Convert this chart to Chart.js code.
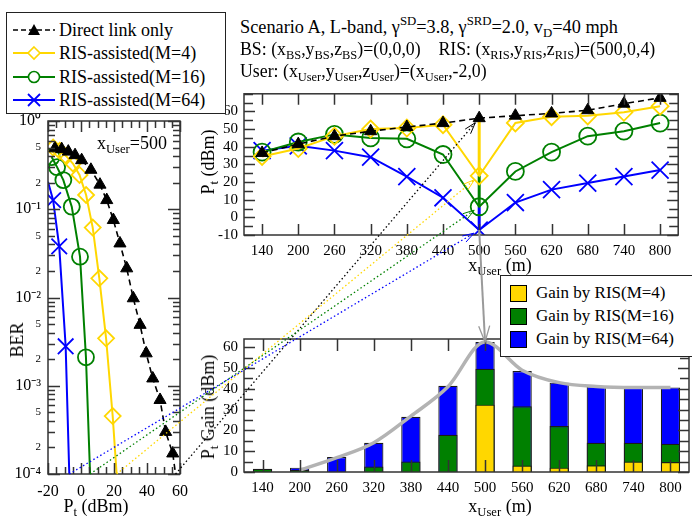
<!DOCTYPE html>
<html>
<head>
<meta charset="utf-8">
<script src="https://cdn.jsdelivr.net/npm/chart.js@4.4.1/dist/chart.umd.min.js"></script>
<style>
  body { margin: 0; background: #fff; }
  #page { position: relative; width: 692px; height: 523px; overflow: hidden;
          font-family: "Liberation Serif", "Times New Roman", serif; color: #000; }
  canvas { position: absolute; }
  .txt { position: absolute; white-space: nowrap; font-size: 17.8px; line-height: 22px; }
  .rot { transform: translate(-50%, -50%) rotate(-90deg); transform-origin: center; }
  .ctr { transform: translate(-50%, -50%); }
  sub, sup { font-size: 70%; line-height: 0; }
  sub { vertical-align: -0.35em; }
  sup { vertical-align: 0.6em; }
  .box { position: absolute; background: #fff; border: 1px solid #222; z-index: 5; }
  .row { position: absolute; left: 0; height: 22px; display: flex; align-items: center; white-space: nowrap; }
  .sq { display: inline-block; width: 15px; height: 15px; border: 1px solid #000; margin-right: 9px; }
</style>
</head>
<body>
<div id="page">
  <canvas id="ber" width="190" height="413" style="left:0;top:110px"></canvas>
  <canvas id="pt" width="507" height="200" style="left:185px;top:80px"></canvas>
  <canvas id="gain" width="507" height="193" style="left:185px;top:330px"></canvas>
  <canvas id="overlay" width="692" height="523" style="left:0;top:0;z-index:3"></canvas>

  <div class="box" style="left:6px;top:12px;width:218px;height:100px;font-size:18px">
    <div class="row" style="top:6px">
      <svg width="46" height="16" style="margin:0 2px 0 4px">
        <line x1="2" y1="8" x2="44" y2="8" stroke="#000" stroke-width="1.5" stroke-dasharray="5,3"/>
        <polygon points="23,2 29,13 17,13" fill="#000"/>
      </svg><span>Direct link only</span></div>
    <div class="row" style="top:29px">
      <svg width="46" height="16" style="margin:0 2px 0 4px">
        <line x1="2" y1="8" x2="44" y2="8" stroke="#FFD700" stroke-width="2"/>
        <polygon points="23,2 29,8 23,14 17,8" fill="#fff" stroke="#FFD700" stroke-width="1.6"/>
      </svg><span>RIS-assisted(M=4)</span></div>
    <div class="row" style="top:53px">
      <svg width="46" height="16" style="margin:0 2px 0 4px">
        <line x1="2" y1="8" x2="44" y2="8" stroke="#008000" stroke-width="2"/>
        <circle cx="23" cy="8" r="5.5" fill="#fff" stroke="#008000" stroke-width="1.6"/>
      </svg><span>RIS-assisted(M=16)</span></div>
    <div class="row" style="top:76px">
      <svg width="46" height="16" style="margin:0 2px 0 4px">
        <line x1="2" y1="8" x2="44" y2="8" stroke="#0000FF" stroke-width="2"/>
        <line x1="17" y1="2" x2="29" y2="14" stroke="#0000FF" stroke-width="1.8"/>
        <line x1="17" y1="14" x2="29" y2="2" stroke="#0000FF" stroke-width="1.8"/>
      </svg><span>RIS-assisted(M=64)</span></div>
  </div>

  <div class="box" style="left:500px;top:275px;width:200px;height:80px;font-size:17px">
    <div class="row" style="left:9px;top:6px"><span class="sq" style="background:#FFD700"></span>Gain by RIS(M=4)</div>
    <div class="row" style="left:9px;top:29px"><span class="sq" style="background:#008000"></span>Gain by RIS(M=16)</div>
    <div class="row" style="left:9px;top:52px"><span class="sq" style="background:#0000FF"></span>Gain by RIS(M=64)</div>
  </div>

  <div class="txt" style="left:240px;top:16px;font-size:18.3px">Scenario A, L-band, &gamma;<sup>SD</sup>=3.8, &gamma;<sup>SRD</sup>=2.0, v<sub>D</sub>=40 mph</div>
  <div class="txt" style="left:240px;top:38px">BS: (x<sub>BS</sub>,y<sub>BS</sub>,z<sub>BS</sub>)=(0,0,0)&nbsp;&nbsp;&nbsp;&nbsp;RIS: (x<sub>RIS</sub>,y<sub>RIS</sub>,z<sub>RIS</sub>)=(500,0,4)</div>
  <div class="txt" style="left:240px;top:60px">User: (x<sub>User</sub>,y<sub>User</sub>,z<sub>User</sub>)=(x<sub>User</sub>,-2,0)</div>

  <div class="txt" style="left:97px;top:132px;font-size:18px">x<sub>User</sub>=500</div>
  <div class="txt rot" style="left:17px;top:340px;font-size:18px">BER</div>
  <div class="txt ctr" style="left:96px;top:506px;font-size:18px">P<sub>t</sub> (dBm)</div>
  <div class="txt rot" style="left:208px;top:162px;font-size:18px">P<sub>t</sub> (dBm)</div>
  <div class="txt ctr" style="left:500px;top:265px;font-size:18px;z-index:2">x<sub>User</sub> (m)</div>
  <div class="txt rot" style="left:208px;top:407px;font-size:18px">P<sub>t</sub> Gain (dBm)</div>
  <div class="txt ctr" style="left:500px;top:506px;font-size:18px">x<sub>User</sub> (m)</div>
</div>

<script>
// user positions along x (m)
const xUser = ['140', '200', '260', '320', '380', '440', '500', '560', '620', '680', '740', '800'];

// required transmit power Pt (dBm)
const ptDirect = [36.5, 41.5, 46, 48.8, 51.2, 53.4, 56.2, 57.6, 58.9, 60.7, 64.4, 67.7];
const ptM4 = [34.5, 39, 46, 50, 50.6, 52.5, 23.5, 53.5, 57, 57.5, 59.5, 63];
const ptM16 = [36.9, 42.7, 47, 45, 44.5, 35.6, 6, 26, 37, 46, 48.8, 53.4];
const ptM64 = [37.8, 40.5, 37.8, 34.1, 23.1, 11.1, -7.2, 8.4, 15.7, 19.4, 23.1, 26.8];

// Pt gain by RIS (dBm)
const gainM4 = [0, 0, 0, 0, 0, 0, 32.4, 3.1, 2.1, 3.2, 5.0, 4.8];
const gainM16 = [1.6, 1.0, 0, 2.6, 5.0, 17.9, 49.7, 31.6, 22.1, 14.1, 14.1, 13.6];
const gainM64 = [1.2, 2.1, 7.2, 14.1, 26.6, 41.5, 62.6, 48.6, 43.0, 41.2, 40.7, 40.7];
const gainTrend = [null, 0.8, 6.9, 14.1, 26.9, 41, 62.6, 49, 43, 41.2, 40.7, 40.7];

// BER vs Pt at xUser = 500
const berPtDirect = [-15.8, -11.7, -7.7, -3.6, 0.4, 6, 11.5, 15.6, 19.6, 23.6, 27.7, 31.7, 35.8, 39.5, 43.5, 47.9, 51.3, 55.6, 57.3];
const berDirect = [0.49, 0.48, 0.45, 0.41, 0.36, 0.28, 0.19, 0.127, 0.0755, 0.041, 0.0214, 0.0098, 0.0049, 0.00233, 0.00121, 0.00069, 0.0003, 0.000171, 0.0001];
const berPtM4 = [-16.9, -12.9, -8.9, -4.9, -0.9, 3.1, 7.1, 11.1, 15.2, 19.2, 21.6];
const berM4 = [0.5, 0.46, 0.4, 0.33, 0.245, 0.145, 0.062, 0.0165, 0.00345, 0.000454, 0.0001];
const berPtM16 = [-17.8, -14.5, -10.7, -5.6, -0.6, 3.0, 5.5];
const berM16 = [0.39, 0.3, 0.214, 0.107, 0.029, 0.0021, 0.0001];
const berPtM64 = [-20, -16.9, -13.2, -9.3, -7.1];
const berM64 = [0.205, 0.127, 0.038, 0.0028, 0.0001];

// tick labels
const ptTicks = [-10, 0, 10, 20, 30, 40, 50, 60];
const gainTicks = [0, 10, 20, 30, 40, 50, 60];
const berPtTicks = [-20, 0, 20, 40, 60];
const berMinorLabels = [2, 5];

const YEL = '#FFD700', GRN = '#008000', BLU = '#0000FF';
const FONT = '"Liberation Serif", "Times New Roman", serif';

Chart.defaults.font.family = FONT;
Chart.defaults.color = '#000';
Chart.defaults.animation = false;
Chart.defaults.plugins.legend.display = false;
Chart.defaults.plugins.tooltip.enabled = false;

const range = (a, b, s) => {
  const out = [];
  for (let v = a; v <= b + 1e-9; v += s) out.push(+v.toFixed(6));
  return out;
};

// fixed axis box so the plot areas land where the figure has them
const fixSize = (w, h) => s => {
  if (w !== null) s.width = w;
  if (h !== null) s.height = h;
  s.paddingTop = s.paddingBottom = s.paddingLeft = s.paddingRight = 0;
};

// grace-style box with inward ticks on all four sides
const frame = {
  id: 'frame',
  afterDraw(chart, args, opts) {
    const { ctx, chartArea: a, scales } = chart;
    ctx.save();
    ctx.strokeStyle = '#333';
    ctx.lineWidth = 1.5;
    ctx.strokeRect(a.left, a.top, a.right - a.left, a.bottom - a.top);
    ctx.beginPath();
    scales.x.ticks.forEach((t, i) => {
      const p = Math.round(scales.x.getPixelForTick(i)) + 0.5;
      const len = opts.xMajor(t) ? opts.xLong : opts.xShort;
      ctx.moveTo(p, a.bottom); ctx.lineTo(p, a.bottom - len);
      ctx.moveTo(p, a.top); ctx.lineTo(p, a.top + len);
    });
    scales.y.ticks.forEach((t, i) => {
      const p = Math.round(scales.y.getPixelForTick(i)) + 0.5;
      const len = opts.yMajor(t) ? opts.yLong : opts.yShort;
      ctx.moveTo(a.left, p); ctx.lineTo(a.left + len, p);
      ctx.moveTo(a.right, p); ctx.lineTo(a.right - len, p);
    });
    ctx.stroke();
    ctx.restore();
  }
};

const hasLabel = t => t.label !== '' && t.label !== undefined;

function series(data, color, style, radius, filled, dashed) {
  return {
    data: data,
    borderColor: color,
    borderWidth: dashed ? 1.6 : 2,
    borderDash: dashed ? [6, 4] : [],
    pointStyle: style,
    pointRadius: radius,
    pointBorderWidth: filled ? 1 : 1.8,
    pointBorderColor: color,
    pointBackgroundColor: filled ? color : 'rgba(0,0,0,0)',
    tension: 0
  };
}

// ---- left: BER vs Pt ----
const xy = (xs, ys) => xs.map((x, i) => ({ x: x, y: ys[i] }));
const berSets = [
  series(xy(berPtDirect, berDirect), '#000', 'triangle', 7, true, true),
  series(xy(berPtM4, berM4), YEL, 'rectRot', 8, false, false),
  series(xy(berPtM16, berM16), GRN, 'circle', 8, false, false),
  series(xy(berPtM64, berM64), BLU, 'crossRot', 11, false, false)
];
berSets.forEach(ds => {
  const r = ds.pointRadius;
  ds.pointRadius = c => (c.raw && (c.raw.y <= 1e-4 || c.raw.x <= -20)) ? 0 : r;
});
const isDecade = v => Math.abs(Math.log10(v) - Math.round(Math.log10(v))) < 1e-6;
const supMap = { '-': '\u207B', '0': '\u2070', '1': '\u00B9', '2': '\u00B2', '3': '\u00B3', '4': '\u2074' };

const berChart = new Chart(document.getElementById('ber'), {
  type: 'line',
  data: { datasets: berSets },
  options: {
    responsive: false,
    layout: { padding: { top: 11, right: 10, left: 0, bottom: 0 } },
    scales: {
      x: {
        type: 'linear', min: -20, max: 60,
        grid: { display: false, drawTicks: false }, border: { display: false },
        afterBuildTicks: s => { s.ticks = range(-20, 60, 5).map(v => ({ value: v })); },
        afterFit: fixSize(null, 49),
        ticks: { autoSkip: false, maxRotation: 0, padding: 8, font: { size: 16 },
                 callback: v => berPtTicks.includes(v) ? String(v) : '' }
      },
      y: {
        type: 'logarithmic', min: 1e-4, max: 1,
        grid: { display: false, drawTicks: false }, border: { display: false },
        afterBuildTicks: s => {
          const t = [];
          for (let e = -4; e <= 0; e++) {
            for (let m = 1; m <= 9; m++) {
              const v = +(m * Math.pow(10, e)).toPrecision(6);
              if (v <= 1) t.push({ value: v });
            }
          }
          s.ticks = t;
        },
        afterFit: fixSize(48, null),
        ticks: {
          autoSkip: false, padding: 7,
          font: c => ({ size: c.tick && isDecade(c.tick.value) ? 16 : 11 }),
          callback: v => {
            const e = Math.floor(Math.log10(v) + 1e-9);
            const m = Math.round(v / Math.pow(10, e));
            if (m === 1) return '10' + String(e).split('').map(ch => supMap[ch]).join('');
            return berMinorLabels.includes(m) ? String(m) : '';
          }
        }
      }
    },
    plugins: {
      frame: { xMajor: t => t.value % 20 === 0, xLong: 11, xShort: 7,
               yMajor: t => isDecade(t.value), yLong: 12, yShort: 7 }
    }
  },
  plugins: [frame]
});

// ---- top right: Pt vs xUser ----
const i500 = xUser.indexOf('500');

const gainMarks = {
  id: 'gainMarks',
  beforeDatasetsDraw(chart) {
    const { ctx, scales } = chart;
    const px = scales.x.getPixelForValue(i500);
    const segs = [[ptDirect, ptM4, YEL], [ptM4, ptM16, GRN], [ptM16, ptM64, BLU]];
    ctx.save();
    ctx.lineWidth = 3;
    segs.forEach(([a, b, col]) => {
      ctx.strokeStyle = col;
      ctx.beginPath();
      ctx.moveTo(px, scales.y.getPixelForValue(a[i500]));
      ctx.lineTo(px, scales.y.getPixelForValue(b[i500]));
      ctx.stroke();
    });
    ctx.restore();
  }
};

const ptChart = new Chart(document.getElementById('pt'), {
  type: 'line',
  data: {
    labels: xUser,
    datasets: [
      series(ptDirect, '#000', 'triangle', 7, true, true),
      series(ptM4, YEL, 'rectRot', 8.5, false, false),
      series(ptM16, GRN, 'circle', 8.5, false, false),
      series(ptM64, BLU, 'crossRot', 12, false, false)
    ]
  },
  options: {
    responsive: false,
    layout: { padding: { top: 10, right: 3, left: 0, bottom: 0 } },
    scales: {
      x: {
        type: 'category', offset: true,
        grid: { display: false, drawTicks: false }, border: { display: false },
        afterFit: fixSize(null, 45),
        ticks: { autoSkip: false, maxRotation: 0, padding: 7, font: { size: 15 } }
      },
      y: {
        min: -10, max: 70,
        grid: { display: false, drawTicks: false }, border: { display: false },
        afterBuildTicks: s => { s.ticks = range(-10, 70, 5).map(v => ({ value: v })); },
        afterFit: fixSize(59, null),
        ticks: { autoSkip: false, padding: 6, font: { size: 15 },
                 callback: v => ptTicks.includes(v) ? String(v) : '' }
      }
    },
    plugins: {
      frame: { xMajor: hasLabel, xLong: 11, xShort: 11,
               yMajor: hasLabel, yLong: 11, yShort: 9 }
    }
  },
  plugins: [gainMarks, frame]
});

// ---- bottom right: Pt gain bars ----
const barSet = (data, color, order) => ({
  type: 'bar', data: data, backgroundColor: color, borderColor: '#1a1a1a', borderWidth: 1.2,
  grouped: false, order: order, categoryPercentage: 1, barPercentage: 0.52
});

const gainChart = new Chart(document.getElementById('gain'), {
  type: 'bar',
  data: {
    labels: xUser,
    datasets: [
      { type: 'line', data: gainTrend, borderColor: '#b3b3b3', borderWidth: 3.5, pointRadius: 0,
        cubicInterpolationMode: 'monotone', order: 0 },
      barSet(gainM4, YEL, 1),
      barSet(gainM16, GRN, 2),
      barSet(gainM64, BLU, 3)
    ]
  },
  options: {
    responsive: false,
    layout: { padding: { top: 9, right: 3, left: 0, bottom: 0 } },
    scales: {
      x: {
        type: 'category', offset: true,
        grid: { display: false, drawTicks: false }, border: { display: false },
        afterFit: fixSize(null, 51),
        ticks: { autoSkip: false, maxRotation: 0, padding: 7, font: { size: 15 } }
      },
      y: {
        min: 0, max: 64,
        grid: { display: false, drawTicks: false }, border: { display: false },
        afterBuildTicks: s => { s.ticks = range(0, 60, 5).map(v => ({ value: v })); },
        afterFit: fixSize(59, null),
        ticks: { autoSkip: false, padding: 6, font: { size: 15 },
                 callback: v => gainTicks.includes(v) ? String(v) : '' }
      }
    },
    plugins: {
      frame: { xMajor: hasLabel, xLong: 12, xShort: 12,
               yMajor: hasLabel, yLong: 11, yShort: 9 }
    }
  },
  plugins: [frame]
});

// ---- links between the panels ----
function arrowHead(ctx, tip, from, len, spread) {
  const ang = Math.atan2(tip.y - from.y, tip.x - from.x);
  ctx.beginPath();
  ctx.moveTo(tip.x - len * Math.cos(ang - spread), tip.y - len * Math.sin(ang - spread));
  ctx.lineTo(tip.x, tip.y);
  ctx.lineTo(tip.x - len * Math.cos(ang + spread), tip.y - len * Math.sin(ang + spread));
  ctx.stroke();
}

function drawLinks() {
  const ctx = document.getElementById('overlay').getContext('2d');
  const at = (chart, x, y) => ({ x: chart.canvas.offsetLeft + x, y: chart.canvas.offsetTop + y });
  const links = [
    [berPtDirect, berDirect, ptDirect, '#000'],
    [berPtM4, berM4, ptM4, YEL],
    [berPtM16, berM16, ptM16, GRN],
    [berPtM64, berM64, ptM64, BLU]
  ];
  links.forEach(([bx, by, py, col]) => {
    const n = bx.length - 1;
    const a = at(berChart, berChart.scales.x.getPixelForValue(bx[n]), berChart.scales.y.getPixelForValue(by[n]));
    const b = at(ptChart, ptChart.scales.x.getPixelForValue(i500), ptChart.scales.y.getPixelForValue(py[i500]));
    const d = Math.hypot(b.x - a.x, b.y - a.y);
    const tip = { x: b.x - (b.x - a.x) * 6 / d, y: b.y - (b.y - a.y) * 6 / d };
    ctx.save();
    ctx.strokeStyle = col;
    ctx.lineWidth = 1.3;
    ctx.setLineDash([1.5, 2.5]);
    ctx.beginPath();
    ctx.moveTo(a.x, a.y);
    ctx.lineTo(tip.x, tip.y);
    ctx.stroke();
    ctx.setLineDash([]);
    ctx.lineWidth = 1;
    arrowHead(ctx, tip, a, 12, 0.3);
    ctx.restore();
  });

  // gray drop from the M=64 point to the peak gain bar
  const top = at(ptChart, ptChart.scales.x.getPixelForValue(i500), ptChart.scales.y.getPixelForValue(ptM64[i500]));
  const bot = at(gainChart, gainChart.scales.x.getPixelForValue(i500), gainChart.scales.y.getPixelForValue(gainM64[i500]));
  ctx.save();
  ctx.strokeStyle = '#9a9a9a';
  ctx.lineWidth = 2;
  ctx.beginPath();
  ctx.moveTo(top.x, top.y);
  ctx.lineTo(bot.x, bot.y);
  ctx.stroke();
  ctx.lineWidth = 1.3;
  arrowHead(ctx, bot, top, 17, 0.33);
  ctx.restore();
}
drawLinks();
</script>
</body>
</html>
